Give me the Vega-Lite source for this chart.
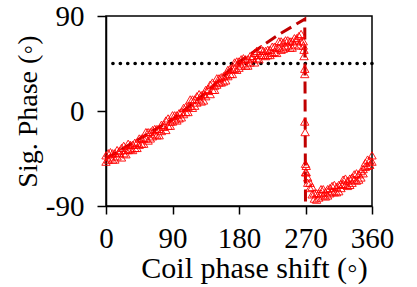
{
  "$schema": "https://vega.github.io/schema/vega-lite/v6.json",
  "width": 266,
  "height": 190,
  "autosize": "none",
  "padding": {"left": 106, "top": 16, "right": 45, "bottom": 81},
  "background": "white",
  "datasets": {
    "meas": [
      {"x":0,"y":-42},{"x":0,"y":-48},{"x":3,"y":-46},{"x":3,"y":-40},{"x":6,"y":-39},{"x":6,"y":-44},
      {"x":9,"y":-46},{"x":9,"y":-40},{"x":12,"y":-40},{"x":12,"y":-46},{"x":15,"y":-43},{"x":15,"y":-37},
      {"x":18,"y":-38},{"x":18,"y":-40},{"x":21,"y":-44},{"x":21,"y":-35},{"x":24,"y":-33},{"x":24,"y":-40},
      {"x":27,"y":-37},{"x":27,"y":-41},{"x":30,"y":-37},{"x":30,"y":-31},{"x":33,"y":-32},{"x":33,"y":-36},
      {"x":36,"y":-37},{"x":36,"y":-32},{"x":39,"y":-30},{"x":39,"y":-35},{"x":42,"y":-35},{"x":42,"y":-30},
      {"x":45,"y":-26},{"x":45,"y":-32},{"x":48,"y":-31},{"x":48,"y":-26},{"x":51,"y":-26},{"x":51,"y":-31},
      {"x":54,"y":-20},{"x":54,"y":-26},{"x":57,"y":-28},{"x":57,"y":-20},{"x":60,"y":-20},{"x":60,"y":-26},
      {"x":63,"y":-24},{"x":63,"y":-18},{"x":66,"y":-17},{"x":66,"y":-22},{"x":69,"y":-23},{"x":69,"y":-17},
      {"x":72,"y":-17},{"x":72,"y":-23},{"x":75,"y":-19},{"x":75,"y":-13},{"x":78,"y":-13},{"x":78,"y":-15},
      {"x":81,"y":-18},{"x":81,"y":-9},{"x":84,"y":-7},{"x":84,"y":-14},{"x":87,"y":-10},{"x":87,"y":-14},
      {"x":90,"y":-10},{"x":90,"y":-4},{"x":93,"y":-4},{"x":93,"y":-8},{"x":96,"y":-9},{"x":96,"y":-4},
      {"x":99,"y":-2},{"x":99,"y":-7},{"x":102,"y":-6},{"x":102,"y":-1},{"x":105,"y":3},{"x":105,"y":-3},
      {"x":108,"y":-1},{"x":108,"y":4},{"x":111,"y":4},{"x":111,"y":-1},{"x":114,"y":11},{"x":114,"y":5},
      {"x":117,"y":3},{"x":117,"y":11},{"x":120,"y":11},{"x":120,"y":5},{"x":123,"y":8},{"x":123,"y":14},
      {"x":126,"y":16},{"x":126,"y":11},{"x":129,"y":9},{"x":129,"y":15},{"x":132,"y":16},{"x":132,"y":10},
      {"x":135,"y":14},{"x":135,"y":20},{"x":138,"y":21},{"x":138,"y":19},{"x":141,"y":16},{"x":141,"y":25},
      {"x":144,"y":27},{"x":144,"y":20},{"x":147,"y":24},{"x":147,"y":20},{"x":150,"y":25},{"x":150,"y":31},
      {"x":153,"y":31},{"x":153,"y":27},{"x":156,"y":27},{"x":156,"y":32},{"x":159,"y":33},{"x":159,"y":28},
      {"x":162,"y":29},{"x":162,"y":34},{"x":165,"y":39},{"x":165,"y":33},{"x":168,"y":35},{"x":168,"y":40},
      {"x":171,"y":40},{"x":171,"y":35},{"x":174,"y":46},{"x":174,"y":40},{"x":177,"y":39},{"x":177,"y":47},
      {"x":180,"y":47},{"x":180,"y":41},{"x":183,"y":43},{"x":183,"y":49},{"x":186,"y":50},{"x":186,"y":45},
      {"x":189,"y":43},{"x":189,"y":49},{"x":192,"y":49},{"x":192,"y":43},{"x":195,"y":46},{"x":195,"y":52},
      {"x":198,"y":52},{"x":198,"y":50},{"x":201,"y":46},{"x":201,"y":55},{"x":204,"y":57},{"x":204,"y":50},
      {"x":207,"y":53},{"x":207,"y":49},{"x":210,"y":53},{"x":210,"y":59},{"x":213,"y":57},{"x":213,"y":53},
      {"x":216,"y":52},{"x":216,"y":57},{"x":219,"y":58},{"x":219,"y":53},{"x":222,"y":53},{"x":222,"y":58},
      {"x":225,"y":61},{"x":225,"y":55},{"x":228,"y":56},{"x":228,"y":61},{"x":231,"y":60},{"x":231,"y":55},
      {"x":234,"y":66},{"x":234,"y":60},{"x":237,"y":58},{"x":237,"y":66},{"x":240,"y":65},{"x":240,"y":59},
      {"x":243,"y":61},{"x":243,"y":67},{"x":246,"y":67},{"x":246,"y":62},{"x":249,"y":60},{"x":249,"y":66},
      {"x":252,"y":66},{"x":252,"y":60},{"x":255,"y":63},{"x":255,"y":69},{"x":258,"y":69},{"x":258,"y":67},
      {"x":261,"y":62},{"x":261,"y":71},{"x":264,"y":73},{"x":264,"y":66},{"x":267,"y":66},{"x":267,"y":62},
      {"x":268,"y":58},{"x":268,"y":52},{"x":269,"y":40},{"x":269,"y":35},{"x":269,"y":-10},{"x":269.5,"y":-20},
      {"x":270,"y":-50},{"x":270,"y":-58},
      {"x":271,"y":-52},{"x":271,"y":-58},{"x":273,"y":-68},{"x":273,"y":-63},{"x":276,"y":-68},{"x":276,"y":-73},
      {"x":279,"y":-79},{"x":279,"y":-72},{"x":282,"y":-78},{"x":282,"y":-83},{"x":285,"y":-84},{"x":285,"y":-78},
      {"x":288,"y":-78},{"x":288,"y":-82},{"x":291,"y":-74},{"x":291,"y":-78},{"x":294,"y":-80},{"x":294,"y":-74},
      {"x":297,"y":-81},{"x":297,"y":-77},{"x":300,"y":-74},{"x":300,"y":-80},{"x":303,"y":-78},{"x":303,"y":-73},
      {"x":306,"y":-71},{"x":306,"y":-76},{"x":309,"y":-77},{"x":309,"y":-70},{"x":312,"y":-72},{"x":312,"y":-77},
      {"x":315,"y":-76},{"x":315,"y":-70},{"x":318,"y":-69},{"x":318,"y":-73},{"x":321,"y":-65},{"x":321,"y":-69},
      {"x":324,"y":-70},{"x":324,"y":-64},{"x":327,"y":-71},{"x":327,"y":-66},{"x":330,"y":-64},{"x":330,"y":-70},
      {"x":333,"y":-68},{"x":333,"y":-63},{"x":336,"y":-60},{"x":336,"y":-65},{"x":339,"y":-66},{"x":339,"y":-59},
      {"x":342,"y":-60},{"x":342,"y":-65},{"x":345,"y":-63},{"x":345,"y":-57},{"x":348,"y":-55},{"x":348,"y":-59},
      {"x":351,"y":-49},{"x":351,"y":-53},{"x":354,"y":-52},{"x":354,"y":-46},{"x":357,"y":-51},{"x":357,"y":-47},
      {"x":360,"y":-42},{"x":360,"y":-48}
    ],
    "theory": [
      {"x":0,"y":-45,"o":0},{"x":90,"y":-8,"o":1},{"x":135,"y":17,"o":2},{"x":175,"y":44,"o":3},
      {"x":235,"y":73,"o":4},{"x":269,"y":87,"o":5},{"x":270,"y":-88,"o":6},{"x":273,"y":-87,"o":7}
    ],
    "level": [{"y":45}]
  },
  "layer": [
    {
      "data": {"name": "level"},
      "mark": {"type": "rule", "color": "black", "strokeWidth": 3.6, "strokeDash": [0.1, 7.3], "strokeCap": "round"},
      "encoding": {"y": {"field": "y", "type": "quantitative"}}
    },
    {
      "data": {"name": "theory"},
      "mark": {"type": "line", "color": "#c00000", "strokeWidth": 3, "strokeDash": [12, 6]},
      "encoding": {
        "x": {"field": "x", "type": "quantitative"},
        "y": {"field": "y", "type": "quantitative"},
        "order": {"field": "o"}
      }
    },
    {
      "data": {"name": "meas"},
      "mark": {"type": "point", "shape": "triangle-up", "filled": false, "color": "#ff0000", "size": 70, "strokeWidth": 1, "opacity": 0.9},
      "encoding": {
        "x": {
          "field": "x", "type": "quantitative",
          "scale": {"domain": [0, 360], "nice": false, "zero": false},
          "axis": {"values": [0, 90, 180, 270, 360], "title": "Coil phase shift (◦)", "titleX": 148}
        },
        "y": {
          "field": "y", "type": "quantitative",
          "scale": {"domain": [-90, 90], "nice": false, "zero": false},
          "axis": {"values": [-90, 0, 90], "title": "Sig. Phase (◦)", "labelExpr": "'' + datum.value"}
        }
      }
    }
  ],
  "config": {
    "view": {"stroke": "black", "strokeWidth": 1.5},
    "axis": {
      "grid": false,
      "domainColor": "black",
      "domainWidth": 1.5,
      "tickColor": "black",
      "tickWidth": 1.5,
      "labelFont": "Liberation Serif",
      "labelFontSize": 29,
      "labelColor": "black",
      "titleFont": "Liberation Serif",
      "titleFontSize": 30,
      "titleFontWeight": "normal",
      "titleColor": "black",
      "labelFlush": false,
      "labelOverlap": false
    },
    "axisX": {"tickSize": 8, "labelPadding": 10, "titlePadding": 0},
    "axisY": {"tickSize": 9, "labelPadding": 13, "titlePadding": 3, "titleFontSize": 28}
  }
}
